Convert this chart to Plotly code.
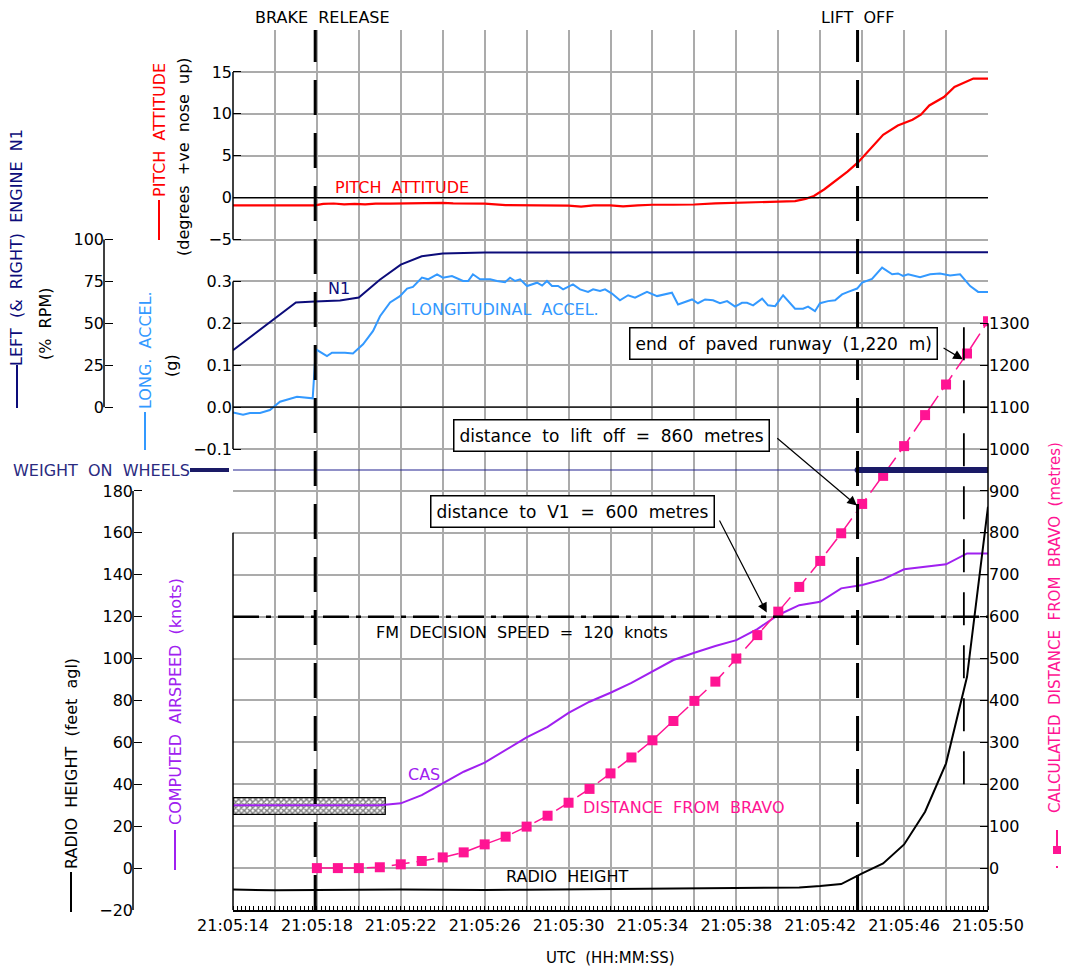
import plotly.graph_objects as go

# ---------------- data (time = seconds after 21:05:00 UTC) ----------------
pitch_t = [14, 15, 16, 17, 17.9, 18.3, 18.8, 19.3, 19.8, 20.3, 20.8, 21.5, 22.2, 23.0, 24.0, 24.5, 25.0,
           26.0, 27.0, 28.0, 29.0, 30.0, 30.6, 31.2, 32.0, 32.6, 33.3, 34.0, 35.0, 36.0, 37.0, 38.0,
           39.0, 40.0, 40.8, 41.3, 41.7, 42.2, 42.8, 43.3, 43.8, 44.4, 45.0, 45.7, 46.4, 46.8, 47.2,
           47.9, 48.4, 49.3, 50.0]
pitch_deg = [-0.92, -0.92, -0.92, -0.92, -0.92, -0.75, -0.7, -0.8, -0.75, -0.8, -0.72, -0.72, -0.68,
             -0.66, -0.63, -0.68, -0.7, -0.72, -0.9, -0.92, -0.92, -0.95, -1.07, -0.92, -0.92, -1.05,
             -0.92, -0.85, -0.85, -0.82, -0.68, -0.62, -0.55, -0.45, -0.42, -0.15, 0.2, 1.0, 2.1, 3.1,
             4.2, 5.9, 7.5, 8.6, 9.3, 9.9, 11.0, 12.0, 13.2, 14.2, 14.2]

n1_t = [14, 14.8, 15.8, 17.0, 17.9, 19.1, 20.0, 21.0, 22.0, 23.0, 24.0, 26.0, 30.0, 38.0, 44.0, 50.0]
n1_pct = [34, 41.5, 51, 62.4, 63, 63.6, 65.4, 76, 85, 90, 91.6, 92.2, 92.3, 92.4, 92.4, 92.4]

accel_t = [14.0, 14.48, 14.81, 15.29, 15.76, 16.24, 17.05, 17.8, 17.95, 18.48, 18.72, 19.34, 19.72,
           20.2, 20.68, 21.01, 21.49, 21.96, 22.3, 22.58, 23.01, 23.3, 23.73, 24.01, 24.44, 24.97,
           25.21, 25.44, 25.78, 26.26, 26.59, 26.97, 27.21, 27.45, 27.69, 28.02, 28.5, 28.74, 28.97,
           29.21, 29.5, 29.74, 30.21, 30.55, 30.93, 31.17, 31.5, 31.74, 32.07, 32.45, 32.84, 33.17,
           33.74, 34.22, 34.93, 35.22, 35.89, 36.17, 36.51, 36.89, 37.22, 37.56, 37.94, 38.27, 38.51,
           38.8, 39.23, 39.51, 39.85, 40.23, 40.8, 41.18, 41.42, 41.75, 41.99, 42.37, 42.71, 43.04,
           43.33, 43.76, 44.0, 44.47, 44.95, 45.43, 45.71, 45.95, 46.19, 46.76, 47.24, 47.71, 48.19,
           48.67, 49.15, 49.53, 50.0]
accel_g = [-0.013, -0.018, -0.014, -0.014, -0.007, 0.013, 0.025, 0.021, 0.138, 0.122, 0.13, 0.13,
           0.128, 0.15, 0.182, 0.217, 0.25, 0.265, 0.283, 0.287, 0.309, 0.305, 0.317, 0.309, 0.313,
           0.301, 0.301, 0.317, 0.305, 0.305, 0.301, 0.298, 0.309, 0.301, 0.305, 0.289, 0.297, 0.29,
           0.301, 0.289, 0.289, 0.281, 0.293, 0.281, 0.275, 0.281, 0.277, 0.281, 0.271, 0.255, 0.267,
           0.261, 0.275, 0.265, 0.273, 0.245, 0.257, 0.248, 0.257, 0.255, 0.248, 0.253, 0.24, 0.249,
           0.249, 0.243, 0.259, 0.243, 0.241, 0.267, 0.235, 0.235, 0.24, 0.229, 0.248, 0.253, 0.255,
           0.269, 0.275, 0.283, 0.297, 0.306, 0.333, 0.317, 0.319, 0.313, 0.317, 0.31, 0.317, 0.319,
           0.314, 0.317, 0.289, 0.275, 0.275]

cas_t = [14, 15, 16, 17, 18, 19, 20, 21, 22, 23, 24, 25, 26, 27, 28, 29, 30, 31, 32, 33, 34, 35, 36,
         37, 38, 39, 40, 41, 42, 43, 44, 45, 46, 47, 48, 49, 50]
cas_kt = [30, 30, 30, 30, 30, 30, 30, 30, 30.9, 34.8, 40.4, 46, 50.3, 56.3, 62.4, 67.4, 74.1, 79.4,
          83.7, 88.4, 93.7, 99.3, 102.8, 106, 108.8, 114.1, 120.8, 125.5, 127.1, 133.5, 135.1, 137.8,
          142.6, 143.8, 145, 150.2, 150.2]

# hatched band: CAS not valid below ~30 kt
hatch_t = [14, 21.26]
hatch_kt = [25.6, 33.6]

dist_t = [18, 19, 20, 21, 22, 23, 24, 25, 26, 27, 28, 29, 30, 31, 32, 33, 34, 35, 36, 37, 38, 39, 40,
          41, 42, 43, 44, 45, 46, 47, 48, 49, 50]
dist_m = [0, 0, 0, 2, 9, 17, 25.5, 37.5, 56.6, 75, 99, 125, 156, 189, 226, 264, 305, 351, 399, 445,
          500, 556, 612, 671, 733, 799, 869, 936, 1007, 1081, 1154, 1228, 1305]

radio_t = [14, 16, 18, 20, 22, 24, 26, 28, 30, 32, 34, 36, 38, 40, 41, 42, 43, 44, 45, 46, 47, 48, 49, 50]
radio_ft = [-10.2, -10.6, -10.5, -10.3, -10.2, -10.3, -10.5, -10.3, -10.2, -9.9, -9.8, -9.8, -9.8,
            -9.6, -9.3, -8.6, -7.6, -2.5, 2.2, 11.3, 26.9, 50, 91.3, 172.5]

wow_ground_t = [14, 50]
wow_air_t = [43.78, 50]

brake_release_t = 17.92
lift_off_t = 43.78
runway_end_t = 48.85
runway_end_m = 1220
runway_line_m = [200, 1300]
liftoff_dist_m = 860
v1_t = 39.45
v1_dist_m = 600
decision_speed_kt = 120

x_tick_s = list(range(14, 51, 2))
x_tick_labels = ["21:05:14", "", "21:05:18", "", "21:05:22", "", "21:05:26", "", "21:05:30", "",
                 "21:05:34", "", "21:05:38", "", "21:05:42", "", "21:05:46", "", "21:05:50"]
pitch_ticks = [-5, 0, 5, 10, 15]
accel_ticks = [-0.1, 0.0, 0.1, 0.2, 0.3]
n1_ticks = [0, 25, 50, 75, 100]
cas_ticks = [0, 20, 40, 60, 80, 100, 120, 140, 160]
radio_ticks = [-20, 0, 20, 40, 60, 80, 100, 120, 140, 160, 180]
dist_ticks = list(range(0, 1301, 100))

# ---------------- styling ----------------
W, H = 1066, 969
PL, PR, PT, PB = 233, 988, 30, 910
FONT = "DejaVu Sans"
GRID = "#ababab"
RED, NAVY, LBLUE, PURPLE, PINK = "#ff0000", "#0c0c7a", "#3399ff", "#a020f0", "#ff1493"
WOWC = "#1a1a66"
SP = "\u00a0\u00a0"

xdom = [PL / W, PR / W]
ydom = [1 - PB / H, 1 - PT / H]


def P(xp, yp):
    return xp / W, 1 - yp / H


def frange(a, b, s):
    n = int(round((b - a) / s))
    return [round(a + i * s, 6) for i in range(n + 1)]


tickfont = dict(family=FONT, size=16, color="black")

axes = {}
axis_counter = [8]


def yax(name, rng, tickvals, minor_vals, side="left", position=None, **kw):
    d = dict(domain=ydom, range=rng, overlaying="y", tickmode="array", tickvals=tickvals,
             showgrid=False, zeroline=False, showline=False, ticks="inside", ticklen=8,
             tickcolor="black", tickwidth=1, tickfont=tickfont, side=side, automargin=False)
    if position is None:
        d["anchor"] = "x"
    else:
        d["anchor"] = "free"
        d["position"] = position
    d.update(kw)
    axes[name] = d
    # helper axis carrying the fine tick marks
    axis_counter[0] += 1
    m = dict(d)
    m.update(tickvals=minor_vals, ticklen=4, showticklabels=False)
    m.pop("tickformat", None)
    axes["yaxis%d" % axis_counter[0]] = m


yax("yaxis2", [-85, 20], pitch_ticks, frange(-5, 15, 0.5))
yax("yaxis3", [-1.2, 0.9], accel_ticks, frange(-0.1, 0.3, 0.01), tickformat=".1f")
yax("yaxis4", [-300, 225], n1_ticks, frange(0, 100, 2.5), position=104 / W)
yax("yaxis5", [-20, 400], cas_ticks, frange(-20, 160, 2))
yax("yaxis6", [-20, 400], radio_ticks, frange(-20, 180, 2), position=133 / W)
yax("yaxis7", [-100, 2000], dist_ticks, frange(0, 1300, 10), side="right")
axes["yaxis8"] = dict(domain=ydom, range=[-10.5, 10.5], overlaying="y", visible=False, anchor="x")

fig = go.Figure()

# hatched box (on the base CAS axis "y")
fig.add_trace(go.Scatter(
    x=[hatch_t[0], hatch_t[1], hatch_t[1], hatch_t[0], hatch_t[0]],
    y=[hatch_kt[0], hatch_kt[0], hatch_kt[1], hatch_kt[1], hatch_kt[0]],
    yaxis="y", mode="lines", fill="toself", line=dict(color="black", width=1.2),
    fillcolor="white",
    fillpattern=dict(shape="x", size=4, solidity=0.6, fgcolor="black", bgcolor="white"),
    hoverinfo="skip"))
fig.add_trace(go.Scatter(x=cas_t, y=cas_kt, yaxis="y", mode="lines",
                         line=dict(color=PURPLE, width=2)))
fig.add_trace(go.Scatter(x=dist_t, y=dist_m, yaxis="y7", mode="lines+markers",
                         line=dict(color=PINK, width=1.5, dash="18px,7px"),
                         marker=dict(symbol="square", size=10, color=PINK)))
fig.add_trace(go.Scatter(x=radio_t, y=radio_ft, yaxis="y6", mode="lines",
                         line=dict(color="black", width=2)))
fig.add_trace(go.Scatter(x=pitch_t, y=pitch_deg, yaxis="y2", mode="lines",
                         line=dict(color=RED, width=2.2)))
fig.add_trace(go.Scatter(x=n1_t, y=n1_pct, yaxis="y4", mode="lines",
                         line=dict(color=NAVY, width=2)))
fig.add_trace(go.Scatter(x=accel_t, y=accel_g, yaxis="y3", mode="lines",
                         line=dict(color=LBLUE, width=2)))
fig.add_trace(go.Scatter(x=wow_ground_t, y=[0, 0], yaxis="y8", mode="lines",
                         line=dict(color="#23238f", width=1.2)))
fig.add_trace(go.Scatter(x=wow_air_t, y=[0, 0], yaxis="y8", mode="lines+markers",
                         line=dict(color=WOWC, width=6), marker=dict(size=6, color=WOWC)))

shapes = []


def spine(xpaper, yref, y0, y1):
    shapes.append(dict(type="line", xref="paper", yref=yref, x0=xpaper, x1=xpaper, y0=y0, y1=y1,
                       line=dict(color="black", width=1.5)))


spine(PL / W, "y2", -5, 15)
spine(PL / W, "y3", -0.1, 0.3)
spine(PL / W, "y", -20, 160)
spine(104 / W, "y4", 0, 100)
spine(133 / W, "y6", -20, 180)
spine(PR / W, "y7", -100, 1300)

# zero reference lines for pitch and acceleration
for yr in ("y2", "y3"):
    shapes.append(dict(type="line", xref="x", yref=yr, x0=14, x1=50, y0=0, y1=0,
                       line=dict(color="black", width=1.2)))

# decision speed line
shapes.append(dict(type="line", xref="x", yref="y", x0=14, x1=50, y0=decision_speed_kt,
                   y1=decision_speed_kt, line=dict(color="black", width=2.5, dash="26px,7px,5px,7px")))

# event lines
for t in (brake_release_t, lift_off_t):
    shapes.append(dict(type="line", xref="x", yref="paper", x0=t, x1=t, y0=ydom[0], y1=ydom[1],
                       line=dict(color="black", width=3, dash="35px,18px")))
shapes.append(dict(type="line", xref="x", yref="y7", x0=runway_end_t, x1=runway_end_t,
                   y0=runway_line_m[0], y1=runway_line_m[1],
                   line=dict(color="black", width=1.8, dash="33px,20px")))


def seg(x0, y0, x1, y1, color, width):
    a, b = P(x0, y0)
    c, d = P(x1, y1)
    shapes.append(dict(type="line", xref="paper", yref="paper", x0=a, y0=b, x1=c, y1=d,
                       line=dict(color=color, width=width)))


# legend keys for axis titles
seg(159, 200, 159, 240, RED, 2)
seg(17, 365, 17, 408, NAVY, 2)
seg(145, 412, 145, 450, LBLUE, 2)
seg(190, 470, 229, 470, WOWC, 4)
seg(71, 872, 71, 912, "black", 2)
seg(175, 830, 175, 870, PURPLE, 2)
seg(1057, 830, 1057, 846, PINK, 2)
a, b = P(1053, 846)
c, d = P(1061, 854)
shapes.append(dict(type="rect", xref="paper", yref="paper", x0=a, y0=b, x1=c, y1=d,
                   fillcolor=PINK, line=dict(width=0)))
a, b = P(1056, 866)
c, d = P(1058, 868)
shapes.append(dict(type="rect", xref="paper", yref="paper", x0=a, y0=b, x1=c, y1=d,
                   fillcolor=PINK, line=dict(width=0)))

ann = []


def label(text, xp, yp, color="black", size=16, angle=0, **kw):
    x, y = P(xp, yp)
    d = dict(text=text.replace(" ", SP), x=x, y=y, xref="paper", yref="paper", xanchor="center",
             yanchor="middle", showarrow=False, textangle=angle,
             font=dict(family=FONT, size=size, color=color))
    d.update(kw)
    ann.append(d)


label("BRAKE RELEASE", 322, 18)
label("LIFT OFF", 858, 18)
label("PITCH ATTITUDE", 159, 130, RED, angle=-90)
label("(degrees +ve nose up)", 183, 157, angle=-90)
label("LEFT (&amp; RIGHT) ENGINE N1", 17, 248, NAVY, angle=-90)
label("(% RPM)", 45, 324, angle=-90)
label("LONG. ACCEL.", 145, 350, LBLUE, angle=-90)
label("(g)", 172, 366, angle=-90)
label("WEIGHT ON WHEELS", 101, 470, "#2a2a80")
label("RADIO HEIGHT (feet agl)", 71, 764, angle=-90)
label("COMPUTED AIRSPEED (knots)", 175, 702, PURPLE, angle=-90)
label("CALCULATED DISTANCE FROM BRAVO (metres)", 1055, 628, PINK, size=15, angle=-90)
label("UTC (HH:MM:SS)", 610, 958, size=15)

label("PITCH ATTITUDE", 402, 188, RED)
label("N1", 339, 288, NAVY)
label("LONGITUDINAL ACCEL.", 505, 309, LBLUE)
label("CAS", 424, 774, PURPLE)
label("DISTANCE FROM BRAVO", 684, 807, PINK)
label("RADIO HEIGHT", 567, 876)
label("FM DECISION SPEED = 120 knots", 522, 632)

boxkw = dict(bgcolor="white", bordercolor="black", borderwidth=1.5, borderpad=5)
label("end of paved runway (1,220 m)", 783, 344, size=17, **boxkw)
label("distance to lift off = 860 metres", 611, 435, size=17, **boxkw)
label("distance to V1 = 600 metres", 572, 511, size=17, **boxkw)


def arrow(x, y, ax, ay):
    ann.append(dict(x=x, y=y, xref="x", yref="y7", ax=ax, ay=ay, axref="x", ayref="y7", text="",
                    showarrow=True, arrowhead=2, arrowsize=1.6, arrowwidth=1.2,
                    arrowcolor="black", standoff=0, startstandoff=0))


arrow(runway_end_t - 0.05, runway_end_m - 6, 47.81, 1243)
arrow(lift_off_t - 0.03, liftoff_dist_m + 5, 39.88, 1029)
arrow(v1_t, v1_dist_m + 10, 37.16, 833)

fig.update_layout(
    width=W, height=H, margin=dict(l=0, r=0, t=0, b=0, pad=0, autoexpand=False),
    paper_bgcolor="white", plot_bgcolor="white", showlegend=False,
    font=dict(family=FONT, size=16, color="black"),
    xaxis=dict(domain=xdom, range=[14, 50], tickmode="array", tickvals=x_tick_s,
               ticktext=x_tick_labels, showgrid=True, gridcolor=GRID, gridwidth=1.5, ticks="",
               showline=True, linecolor="black", linewidth=1.5, zeroline=False, tickfont=tickfont,
               anchor="y", automargin=False,
               minor=dict(tickmode="array", tickvals=frange(14, 50, 0.2), ticks="inside", ticklen=4,
                          tickcolor="black", tickwidth=1, showgrid=False)),
    yaxis=dict(domain=ydom, range=[-20, 400], tickmode="linear", tick0=-20, dtick=20, showgrid=True,
               gridcolor=GRID, gridwidth=1.5, showticklabels=False, ticks="", zeroline=False,
               showline=False, anchor="x", automargin=False),
    shapes=shapes, annotations=ann,
)
fig.update_layout(**axes)

fig.write_html("out.html", config={"displayModeBar": False},
               post_script="document.body.style.margin='0px';document.body.style.overflow='hidden';")
